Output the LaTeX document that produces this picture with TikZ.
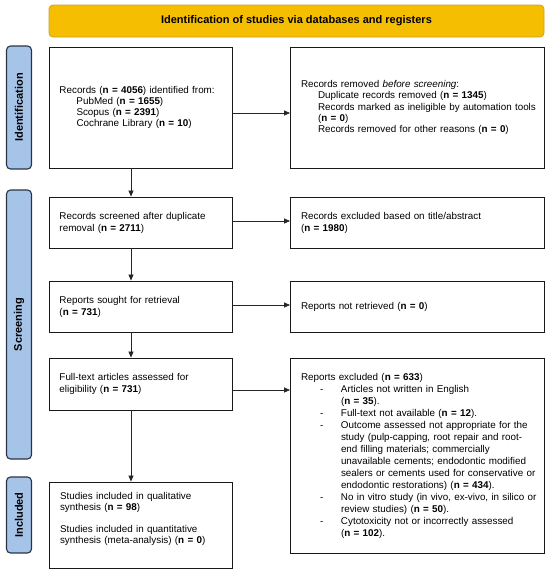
\documentclass[tikz,border=0pt]{standalone}
\usepackage{fontspec}
\setmainfont{Liberation Sans}
\usetikzlibrary{arrows.meta}
\definecolor{hdrfill}{RGB}{246,190,0}
\definecolor{hdrline}{RGB}{205,160,40}
\definecolor{sidefill}{RGB}{166,196,232}
\definecolor{sideline}{RGB}{40,52,68}
\definecolor{boxline}{RGB}{25,25,25}
\begin{document}
\begin{tikzpicture}[x=1pt,y=1pt,
  box/.style={draw=boxline, line width=0.9pt, fill=white, inner xsep=10.5pt, inner ysep=0pt,
    align=left, font=\fontsize{9.85}{12}\selectfont},
  tight/.style={font=\fontsize{9.85}{11.2}\selectfont},
  lbox/.style={box, text width=162pt},
  rbox/.style={box, text width=232.5pt},
  side/.style={draw=sideline, line width=1.1pt, fill=sidefill, rounded corners=4pt,
    rotate=90, minimum height=25pt, inner sep=0pt, font=\fontsize{11}{13}\selectfont\bfseries},
  hdr/.style={draw=hdrline, line width=0.8pt, fill=hdrfill, rounded corners=4pt,
    minimum width=495pt, minimum height=32pt, font=\fontsize{11}{13}\selectfont\bfseries},
  arr/.style={-{Triangle[length=6pt,width=5pt]}, line width=0.7pt, draw=black!85}]
\useasboundingbox (0,0) rectangle (550,-574);

\node[hdr] (hd) at (296.5,-21) {Identification of studies via databases and registers};

\node[side, minimum width=123pt] (s1) at (19,-107.5) {Identification};
\node[side, minimum width=269pt] (s2) at (19,-324.5) {Screening};
\node[side, minimum width=76pt]  (s3) at (19,-515) {Included};

\node[lbox, tight, minimum height=121pt] (A) at (140.5,-107.5) {Records (\textbf{n = 4056}) identified from:\\
\hspace*{17pt}PubMed (\textbf{n = 1655})\\
\hspace*{17pt}Scopus (\textbf{n = 2391})\\
\hspace*{17pt}Cochrane Library (\textbf{n = 10})};

\node[rbox, tight, minimum height=121pt] (B) at (417.25,-107.5) {Records removed \textit{before screening}:\\
\hspace*{17pt}Duplicate records removed (\textbf{n = 1345})\\
\hspace*{17pt}\mbox{Records marked as ineligible by automation tools}\\
\hspace*{17pt}(\textbf{n = 0})\\
\hspace*{17pt}Records removed for other reasons (\textbf{n = 0})};

\node[lbox, minimum height=51pt] (C) at (140.5,-222.5) {Records screened after duplicate\\ removal (\textbf{n = 2711})};
\node[rbox, minimum height=51pt] (D) at (417.25,-222.5) {Records excluded based on title/abstract\\ (\textbf{n = 1980})};

\node[lbox, minimum height=51pt] (E) at (140.5,-306.5) {Reports sought for retrieval\\ (\textbf{n = 731})};
\node[rbox, minimum height=51pt] (F) at (417.25,-306.5) {Reports not retrieved (\textbf{n = 0})};

\node[lbox, minimum height=52pt] (G) at (140.5,-384) {Full-text articles assessed for\\ eligibility (\textbf{n = 731})};
\node[rbox, minimum height=195pt] (H) at (417.25,-455.5) {Reports excluded (\textbf{n = 633})\\
\hspace*{19pt}\makebox[21pt][l]{-}\mbox{Articles not written in English}\\
\hspace*{40pt}(\textbf{n = 35}).\\
\hspace*{19pt}\makebox[21pt][l]{-}\mbox{Full-text not available (\textbf{n = 12}).}\\
\hspace*{19pt}\makebox[21pt][l]{-}\mbox{Outcome assessed not appropriate for the}\\
\hspace*{40pt}\mbox{study (pulp-capping, root repair and root-}\\
\hspace*{40pt}\mbox{end filling materials; commercially}\\
\hspace*{40pt}\mbox{unavailable cements; endodontic modified}\\
\hspace*{40pt}\mbox{sealers or cements used for conservative or}\\
\hspace*{40pt}\mbox{endodontic restorations) (\textbf{n = 434}).}\\
\hspace*{19pt}\makebox[21pt][l]{-}\mbox{No in vitro study (in vivo, ex-vivo, in silico or}\\
\hspace*{40pt}\mbox{review studies) (\textbf{n = 50}).}\\
\hspace*{19pt}\makebox[21pt][l]{-}\mbox{Cytotoxicity not or incorrectly assessed}\\
\hspace*{40pt}(\textbf{n = 102}).};

\node[lbox, tight, minimum height=86pt] (I) at (141,-525) {\parbox[c][66pt][t]{162pt}{\raggedright
Studies included in qualitative\\ synthesis (\textbf{n = 98})\\[11pt]
Studies included in quantitative\\ synthesis (meta-analysis) (\textbf{n = 0})}};

\coordinate (vx) at (131,0);
\coordinate (h1) at (0,-113);
\coordinate (h2) at (0,-221);
\coordinate (h3) at (0,-305);
\coordinate (h4) at (0,-390);

\draw[arr] (A.south -| vx) -- (C.north -| vx);
\draw[arr] (C.south -| vx) -- (E.north -| vx);
\draw[arr] (E.south -| vx) -- (G.north -| vx);
\draw[arr] (G.south -| vx) -- (I.north -| vx);

\draw[arr] (A.east |- h1) -- (B.west |- h1);
\draw[arr] (C.east |- h2) -- (D.west |- h2);
\draw[arr] (E.east |- h3) -- (F.west |- h3);
\draw[arr] (G.east |- h4) -- (H.west |- h4);
\end{tikzpicture}
\end{document}
